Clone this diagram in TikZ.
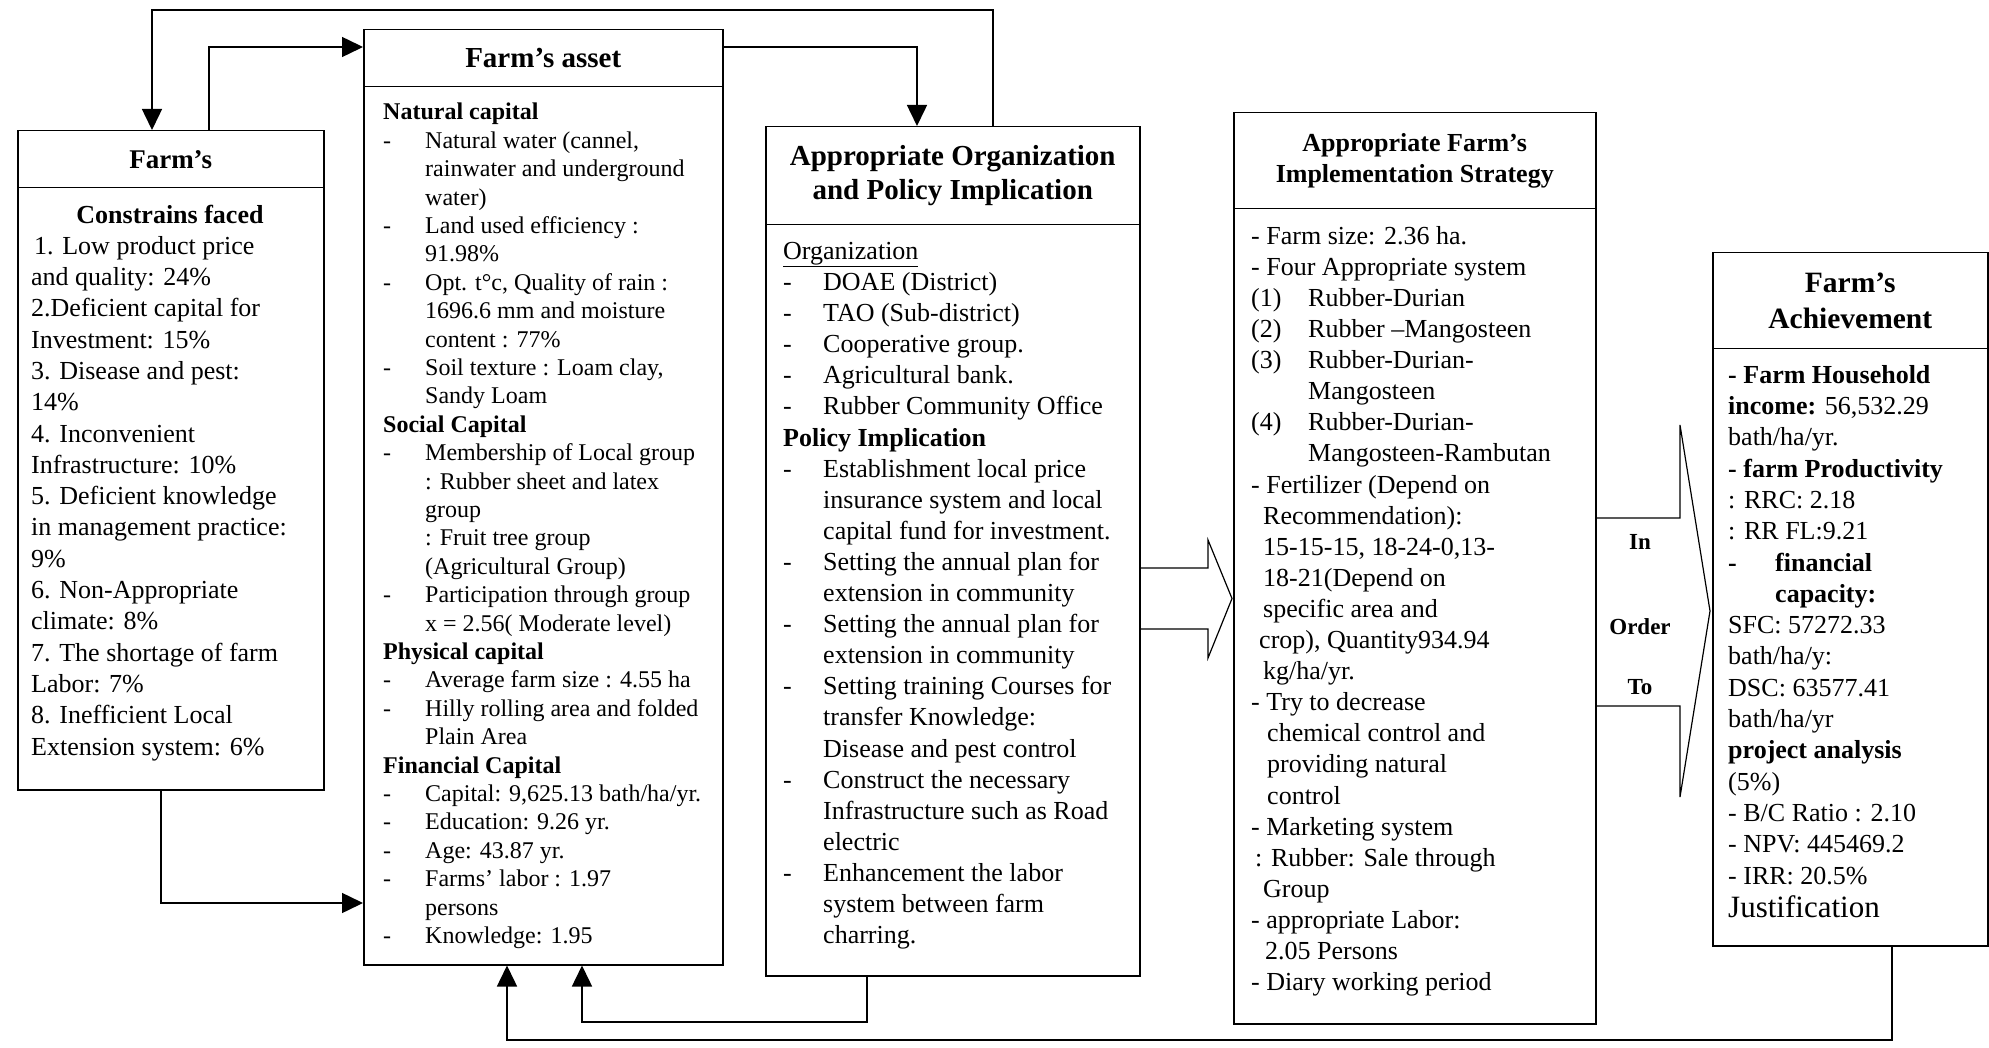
\documentclass[tikz,border=0pt]{standalone}
\usepackage{fontspec}
\setmainfont{Liberation Serif}
\usetikzlibrary{arrows.meta}

\newcommand{\dashitem}[2][42pt]{\makebox[#1][l]{-}#2}
\newcommand{\contline}[2][42pt]{\hspace*{#1}#2}

\begin{document}
\begin{tikzpicture}[x=1pt,y=-1pt,
  hdr/.style={draw,line width=1.5pt,anchor=north west,inner sep=0pt,align=center},
  panel/.style={draw,line width=1.5pt,anchor=north west,inner sep=0pt},
  txt/.style={anchor=north west,inner sep=0pt,align=left},
  conn/.style={line width=1.5pt,-{Triangle[length=21pt,width=20pt]}},
  blockarrow/.style={line width=1.2pt},
  ordertxt/.style={font=\fontsize{23}{27}\selectfont\bfseries}]
\useasboundingbox (0,0) rectangle (1989,1048);

\node[hdr,minimum width=306pt,minimum height=57pt,font=\fontsize{27}{32}\selectfont\bfseries] (farmhead) at (17,130) {Farm's};
\node[panel,minimum width=306pt,minimum height=602pt] (farm) at (17,187) {};
\node[hdr,minimum width=359pt,minimum height=57pt,font=\fontsize{29}{34}\selectfont\bfseries] (assethead) at (363,29) {Farm's asset};
\node[panel,minimum width=359pt,minimum height=878pt] (asset) at (363,86) {};
\node[hdr,minimum width=374pt,minimum height=98pt,font=\fontsize{29}{34}\selectfont\bfseries] (orghead) at (765,126) {Appropriate Organization\\and Policy Implication};
\node[panel,minimum width=374pt,minimum height=751pt] (org) at (765,224) {};
\node[hdr,minimum width=362pt,minimum height=96pt,font=\fontsize{26}{31}\selectfont\bfseries] (strathead) at (1233,112) {Appropriate Farm's\\Implementation Strategy};
\node[panel,minimum width=362pt,minimum height=815pt] (strat) at (1233,208) {};
\node[hdr,minimum width=275pt,minimum height=96pt,font=\fontsize{29.5}{36}\selectfont\bfseries] (achhead) at (1712,252) {Farm's\\Achievement};
\node[panel,minimum width=275pt,minimum height=597pt] (ach) at (1712,348) {};

\node[font=\fontsize{26}{31.3}\selectfont\bfseries] (farmsub) at (170,214) {Constrains faced};
\node[txt,font=\fontsize{26}{31.3}\selectfont] (farmtxt) at (31,236) {\hspace*{3pt}1. Low product price\\
and quality: 24\%\\
2.Deficient capital for\\
Investment: 15\%\\
3. Disease and pest:\\
14\%\\
4. Inconvenient\\
Infrastructure: 10\%\\
5. Deficient knowledge\\
in management practice:\\
9\%\\
6. Non-Appropriate\\
climate: 8\%\\
7. The shortage of farm\\
Labor: 7\%\\
8. Inefficient Local\\
Extension system: 6\%};

\node[txt,font=\fontsize{24}{28.4}\selectfont] (assettxt) at (383,103) {\textbf{Natural capital}\\
\dashitem{Natural water (cannel,}\\
\contline{rainwater and underground}\\
\contline{water)}\\
\dashitem{Land used efficiency :}\\
\contline{91.98\%}\\
\dashitem{Opt. t°c, Quality of rain :}\\
\contline{1696.6 mm and moisture}\\
\contline{content : 77\%}\\
\dashitem{Soil texture : Loam clay,}\\
\contline{Sandy Loam}\\
\textbf{Social Capital}\\
\dashitem{Membership of Local group}\\
\contline{: Rubber sheet and latex}\\
\contline{group}\\
\contline{: Fruit tree group}\\
\contline{(Agricultural Group)}\\
\dashitem{Participation through group}\\
\contline{x = 2.56( Moderate level)}\\
\textbf{Physical capital}\\
\dashitem{Average farm size : 4.55 ha}\\
\dashitem{Hilly rolling area and folded}\\
\contline{Plain Area}\\
\textbf{Financial Capital}\\
\dashitem{Capital: 9,625.13 bath/ha/yr.}\\
\dashitem{Education: 9.26 yr.}\\
\dashitem{Age: 43.87 yr.}\\
\dashitem{Farms' labor : 1.97}\\
\contline{persons}\\
\dashitem{Knowledge: 1.95}};

\node[txt,font=\fontsize{26}{31.1}\selectfont] (orgtxt) at (783,242) {\underline{Organization}\\
\dashitem[40pt]{DOAE (District)}\\
\dashitem[40pt]{TAO (Sub-district)}\\
\dashitem[40pt]{Cooperative group.}\\
\dashitem[40pt]{Agricultural bank.}\\
\dashitem[40pt]{Rubber Community Office}\\
\textbf{Policy Implication}\\
\dashitem[40pt]{Establishment local price}\\
\contline[40pt]{insurance system and local}\\
\contline[40pt]{capital fund for investment.}\\
\dashitem[40pt]{Setting the annual plan for}\\
\contline[40pt]{extension in community}\\
\dashitem[40pt]{Setting the annual plan for}\\
\contline[40pt]{extension in community}\\
\dashitem[40pt]{Setting training Courses for}\\
\contline[40pt]{transfer Knowledge:}\\
\contline[40pt]{Disease and pest control}\\
\dashitem[40pt]{Construct the necessary}\\
\contline[40pt]{Infrastructure such as Road}\\
\contline[40pt]{electric}\\
\dashitem[40pt]{Enhancement the labor}\\
\contline[40pt]{system between farm}\\
\contline[40pt]{charring.}};

\node[txt,font=\fontsize{26}{31.1}\selectfont] (strattxt) at (1251,226) {- Farm size: 2.36 ha.\\
- Four Appropriate system\\
\makebox[57pt][l]{(1)}Rubber-Durian\\
\makebox[57pt][l]{(2)}Rubber --Mangosteen\\
\makebox[57pt][l]{(3)}Rubber-Durian-\\
\hspace*{57pt}Mangosteen\\
\makebox[57pt][l]{(4)}Rubber-Durian-\\
\hspace*{57pt}Mangosteen-Rambutan\\
- Fertilizer (Depend on\\
\hspace*{12pt}Recommendation):\\
\hspace*{12pt}15-15-15, 18-24-0,13-\\
\hspace*{12pt}18-21(Depend on\\
\hspace*{12pt}specific area and\\
\hspace*{8pt}crop), Quantity934.94\\
\hspace*{12pt}kg/ha/yr.\\
- Try to decrease\\
\hspace*{16pt}chemical control and\\
\hspace*{16pt}providing natural\\
\hspace*{16pt}control\\
- Marketing system\\
\hspace*{4pt}: Rubber: Sale through\\
\hspace*{12pt}Group\\
- appropriate Labor:\\
\hspace*{14pt}2.05 Persons\\
- Diary working period};

\node[txt,font=\fontsize{26}{31.3}\selectfont] (achtxt) at (1728,365) {\textbf{- Farm Household}\\
\textbf{income:} 56,532.29\\
bath/ha/yr.\\
\textbf{- farm Productivity}\\
: RRC: 2.18\\
: RR FL:9.21\\
\textbf{\dashitem[47pt]{financial}}\\
\textbf{\contline[47pt]{capacity:}}\\
SFC: 57272.33\\
bath/ha/y:\\
DSC: 63577.41\\
bath/ha/yr\\
\textbf{project analysis}\\
(5\%)\\
- B/C Ratio : 2.10\\
- NPV: 445469.2\\
- IRR: 20.5\%\\[2pt]
{\fontsize{31}{36}\selectfont Justification}};

\draw[blockarrow] (org.east |- 0,568) -- (1208,568) -- (1208,540) -- (1232,598.5) -- (1208,658) -- (1208,629) -- (org.east |- 0,629);
\draw[blockarrow] (strat.east |- 0,518) -- (1680,518) -- (1680,425) -- (1710,611) -- (1680,797) -- (1680,706) -- (strat.east |- 0,706);
\node[ordertxt] (in) at (1640,542) {In};
\node[ordertxt] (order) at (1640,627) {Order};
\node[ordertxt] (to) at (1640,687) {To};

\coordinate (t1) at (993,10);
\coordinate (t2) at (152,10);
\coordinate (t3) at (209,47);
\coordinate (t4) at (917,47);
\coordinate (b1) at (161,903);
\coordinate (b2) at (867,1022);
\coordinate (b3) at (582,1022);
\coordinate (b4) at (1892,1040);
\coordinate (b5) at (507,1040);

\draw[conn] (orghead.north -| t1) -- (t1) -- (t2) -- (farmhead.north -| t2);
\draw[conn] (farmhead.north -| t3) -- (t3) -- (assethead.west |- t3);
\draw[conn] (assethead.east |- t4) -- (t4) -- (orghead.north -| t4);
\draw[conn] (farm.south -| b1) -- (b1) -- (asset.west |- b1);
\draw[conn] (org.south -| b2) -- (b2) -- (b3) -- (asset.south -| b3);
\draw[conn] (ach.south -| b4) -- (b4) -- (b5) -- (asset.south -| b5);
\end{tikzpicture}
\end{document}
